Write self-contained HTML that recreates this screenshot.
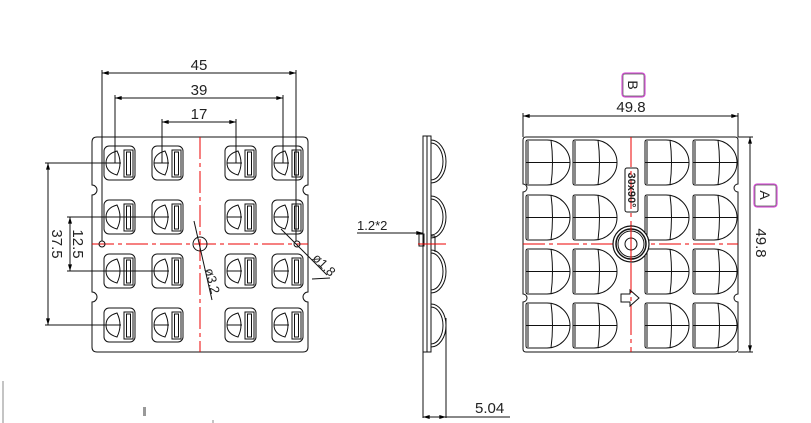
<!DOCTYPE html>
<html><head><meta charset="utf-8"><style>
html,body{margin:0;padding:0;background:#fff;width:811px;height:423px;overflow:hidden}
svg{display:block}
text{font-family:"Liberation Sans",sans-serif;fill:#222}
</style></head><body>
<svg width="811" height="423" viewBox="0 0 811 423" xmlns="http://www.w3.org/2000/svg">
<defs>
<marker id="ar" viewBox="0 0 10 6" refX="10" refY="3" markerWidth="8" markerHeight="4" orient="auto-start-reverse"><path d="M0,0 L10,3 L0,6 Z" fill="#000"/></marker>
<g id="lc" fill="none" stroke="#111" stroke-width="1">
<rect x="0" y="0" width="31" height="34" rx="5"/>
<path d="M13,5 Q2,8 2,17 Q2,26 13,29 Q19,17 13,5 Z"/>
<line x1="2" y1="17" x2="17" y2="17"/>
<rect x="20" y="4" width="9" height="27"/>
<rect x="22.5" y="6" width="4" height="23"/>
</g>
<g id="rc" fill="none" stroke="#111" stroke-width="1">
<path d="M2,0 H21 A23,22.5 0 0 1 21,45 H2 Q0,45 0,43 V2 Q0,0 2,0 Z"/>
<path d="M25,0 Q28,22 25,45"/>
<line x1="0" y1="22.5" x2="44" y2="22.5"/>
<line x1="2" y1="1" x2="2" y2="44"/>
</g>
</defs>

<!-- LEFT VIEW -->
<path d="M97,137 H303 Q308,137 308,142 V185 A5,5 0 0 0 308,195 V292 A5,5 0 0 0 308,302 V347 Q308,352 303,352 H97 Q92,352 92,347 V302 A5,5 0 0 0 92,292 V195 A5,5 0 0 0 92,185 V142 Q92,137 97,137 Z" fill="none" stroke="#111" stroke-width="1"/>
<g>
<use href="#lc" x="104" y="146"/><use href="#lc" x="152" y="146"/><use href="#lc" x="225" y="146"/><use href="#lc" x="272" y="146"/>
<use href="#lc" x="104" y="200"/><use href="#lc" x="152" y="200"/><use href="#lc" x="225" y="200"/><use href="#lc" x="272" y="200"/>
<use href="#lc" x="104" y="254"/><use href="#lc" x="152" y="254"/><use href="#lc" x="225" y="254"/><use href="#lc" x="272" y="254"/>
<use href="#lc" x="104" y="308"/><use href="#lc" x="152" y="308"/><use href="#lc" x="225" y="308"/><use href="#lc" x="272" y="308"/>
</g>
<line x1="200" y1="137" x2="200" y2="352" stroke="#e00" stroke-width="1" stroke-dasharray="22,4,4,4"/>
<line x1="92" y1="244" x2="308" y2="244" stroke="#e00" stroke-width="1" stroke-dasharray="22,4,4,4"/>
<circle cx="200" cy="244" r="7" fill="none" stroke="#111"/>
<circle cx="102" cy="244" r="3" fill="none" stroke="#111"/>
<circle cx="297" cy="244" r="3" fill="none" stroke="#111"/>
<g stroke="#111" stroke-width="1" fill="none">
<line x1="102" y1="70" x2="102" y2="241"/><line x1="296" y1="70" x2="296" y2="241"/>
<line x1="102" y1="73" x2="296" y2="73" marker-start="url(#ar)" marker-end="url(#ar)"/>
<line x1="115" y1="95" x2="115" y2="163"/><line x1="283" y1="95" x2="283" y2="163"/>
<line x1="115" y1="98" x2="283" y2="98" marker-start="url(#ar)" marker-end="url(#ar)"/>
<line x1="162" y1="119" x2="162" y2="163"/><line x1="236" y1="119" x2="236" y2="163"/>
<line x1="162" y1="122" x2="236" y2="122" marker-start="url(#ar)" marker-end="url(#ar)"/>
<line x1="45" y1="163" x2="120" y2="163"/><line x1="45" y1="325" x2="120" y2="325"/>
<line x1="48" y1="163" x2="48" y2="325" marker-start="url(#ar)" marker-end="url(#ar)"/>
<line x1="67" y1="217" x2="168" y2="217"/><line x1="67" y1="271" x2="168" y2="271"/>
<line x1="70" y1="217" x2="70" y2="271" marker-start="url(#ar)" marker-end="url(#ar)"/>
<line x1="194" y1="221" x2="212" y2="300"/>
<line x1="281" y1="229" x2="327" y2="275"/><line x1="312" y1="279" x2="330" y2="278"/>
</g>
<text x="199" y="70" font-size="15" text-anchor="middle">45</text>
<text x="199" y="95" font-size="15" text-anchor="middle">39</text>
<text x="199" y="119" font-size="15" text-anchor="middle">17</text>
<text transform="translate(52,244) rotate(90)" font-size="15" text-anchor="middle">37.5</text>
<text transform="translate(73,244) rotate(90)" font-size="15" text-anchor="middle">12.5</text>
<text transform="translate(208,282) rotate(75)" font-size="13" text-anchor="middle">ø3.2</text>
<text transform="translate(321,268) rotate(45)" font-size="13" text-anchor="middle">ø1.8</text>

<!-- SIDE VIEW -->
<g stroke="#111" stroke-width="1" fill="none">
<rect x="423" y="136" width="8" height="216"/>
<line x1="427" y1="136" x2="427" y2="352"/>
<path d="M431,140 A15,21.5 0 0 1 431,183"/><path d="M431,143 A12,18.5 0 0 1 431,180"/>
<path d="M431,196 A15,21 0 0 1 431,238"/><path d="M431,199 A12,18 0 0 1 431,235"/>
<path d="M431,250 A15,21.5 0 0 1 431,293"/><path d="M431,253 A12,18.5 0 0 1 431,290"/>
<path d="M431,304 A15,21.5 0 0 1 431,347"/><path d="M431,307 A12,18.5 0 0 1 431,344"/>
<rect x="419" y="234" width="5" height="12"/>
<line x1="431" y1="236" x2="435" y2="236"/><line x1="435" y1="236" x2="435" y2="252"/>
<line x1="357" y1="233" x2="423" y2="233" marker-end="url(#ar)"/>
<line x1="423" y1="352" x2="423" y2="418"/><line x1="446" y1="318" x2="446" y2="418"/>
<line x1="423" y1="417" x2="510" y2="417"/>
<line x1="423" y1="417" x2="446" y2="417" marker-start="url(#ar)" marker-end="url(#ar)"/>
</g>
<line x1="418" y1="244" x2="446" y2="244" stroke="#e00"/>
<text x="357" y="230" font-size="13">1.2*2</text>
<text x="475" y="413" font-size="15">5.04</text>

<!-- RIGHT VIEW -->
<path d="M526,137 H735 Q738,137 738,140 V184 A4,4 0 0 0 738,192 V294 A4,4 0 0 0 738,302 V349 Q738,352 735,352 H526 Q523,352 523,349 V302 A4,4 0 0 0 523,294 V192 A4,4 0 0 0 523,184 V140 Q523,137 526,137 Z" fill="none" stroke="#111"/>
<g>
<use href="#rc" x="526" y="140"/><use href="#rc" x="573" y="140"/><use href="#rc" x="645" y="140"/><use href="#rc" x="693" y="140"/>
<use href="#rc" x="526" y="195"/><use href="#rc" x="573" y="195"/><use href="#rc" x="645" y="195"/><use href="#rc" x="693" y="195"/>
<use href="#rc" x="526" y="249"/><use href="#rc" x="573" y="249"/><use href="#rc" x="645" y="249"/><use href="#rc" x="693" y="249"/>
<use href="#rc" x="526" y="303"/><use href="#rc" x="573" y="303"/><use href="#rc" x="645" y="303"/><use href="#rc" x="693" y="303"/>
</g>
<line x1="631" y1="137" x2="631" y2="352" stroke="#e00" stroke-dasharray="30,4,4,4"/>
<line x1="523" y1="244" x2="738" y2="244" stroke="#e00" stroke-dasharray="22,4,4,4"/>
<circle cx="631" cy="244" r="18" fill="#fff" stroke="#111" stroke-width="1.2"/>
<circle cx="631" cy="244" r="15" fill="none" stroke="#111" stroke-width="1.5"/>
<circle cx="631" cy="244" r="13" fill="none" stroke="#111"/>
<circle cx="631" cy="244" r="6" fill="none" stroke="#111"/>
<line x1="631" y1="226" x2="631" y2="262" stroke="#e00"/>
<rect x="625" y="168" width="13" height="44" rx="2" fill="none" stroke="#111"/>
<text transform="translate(628,190) rotate(90)" font-size="11" font-weight="bold" text-anchor="middle">30x90°</text>
<path d="M621,294 H630 V290 L639,298 L630,306 V302 H621 Z" fill="none" stroke="#111"/>
<g stroke="#111" fill="none">
<line x1="523" y1="113" x2="523" y2="137"/><line x1="738" y1="113" x2="738" y2="137"/>
<line x1="523" y1="116" x2="738" y2="116" marker-start="url(#ar)" marker-end="url(#ar)"/>
<line x1="738" y1="137" x2="753" y2="137"/><line x1="738" y1="352" x2="753" y2="352"/>
<line x1="750" y1="137" x2="750" y2="352" marker-start="url(#ar)" marker-end="url(#ar)"/>
</g>
<text x="631" y="112" font-size="15" text-anchor="middle">49.8</text>
<text transform="translate(756,243) rotate(90)" font-size="15" text-anchor="middle">49.8</text>
<rect x="622" y="73" width="23" height="24" rx="3" fill="none" stroke="#d030d0"/>
<rect x="623" y="74" width="21" height="22" rx="2" fill="none" stroke="#555" stroke-width="0.7"/>
<text transform="translate(628,85) rotate(90)" font-size="14" text-anchor="middle">B</text>
<rect x="754" y="184" width="23" height="23" rx="3" fill="none" stroke="#d030d0"/>
<rect x="755" y="185" width="21" height="21" rx="2" fill="none" stroke="#555" stroke-width="0.7"/>
<text transform="translate(760,195) rotate(90)" font-size="14" text-anchor="middle">A</text>

<!-- faint marks -->
<line x1="3" y1="381" x2="3" y2="423" stroke="#888"/>
<rect x="143" y="407" width="3" height="9" fill="#999"/>
<line x1="213" y1="420" x2="213" y2="423" stroke="#888"/>
</svg>
</body></html>
